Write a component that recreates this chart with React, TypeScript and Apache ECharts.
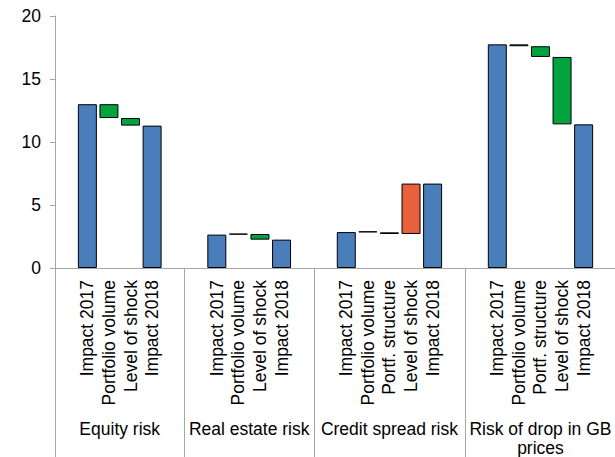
import React, { useEffect, useRef } from "react";
import * as echarts from "echarts";

// Waterfall of risk impacts, one block per risk type
const groupNames = ["Equity risk", "Real estate risk", "Credit spread risk", "Risk of drop in GB\nprices"];

const equitySteps = ["Impact 2017", "Portfolio volume", "Level of shock", "Impact 2018"];
const equityValues = [13.0, -1.1, -0.6, 11.3];

const realEstateSteps = ["Impact 2017", "Portfolio volume", "Level of shock", "Impact 2018"];
const realEstateValues = [2.65, 0.05, -0.45, 2.25];

const creditSteps = ["Impact 2017", "Portfolio volume", "Portf. structure", "Level of shock", "Impact 2018"];
const creditValues = [2.85, -0.02, -0.13, 4.0, 6.7];

const gbSteps = ["Impact 2017", "Portfolio volume", "Portf. structure", "Level of shock", "Impact 2018"];
const gbValues = [17.75, -0.15, -0.85, -5.35, 11.4];

const yTicks = [0, 5, 10, 15, 20];
const unitLabel = "(in CHF billions)";

const TOTAL_COLOR = "#4a7ebb";
const DOWN_COLOR = "#00a33d";
const UP_COLOR = "#e8603c";
const FONT = "'Liberation Sans', Arial, sans-serif";
const FONT_SIZE = 17.5;

type Slot = { label: string; base: number | null; size: number | null; color: string };

function buildSlots(): { slots: Slot[]; bounds: number[]; centers: number[] } {
  const blocks = [
    [equitySteps, equityValues],
    [realEstateSteps, realEstateValues],
    [creditSteps, creditValues],
    [gbSteps, gbValues],
  ] as [string[], number[]][];
  const slots: Slot[] = [];
  const bounds: number[] = [0];
  const centers: number[] = [];
  blocks.forEach(([steps, values]) => {
    const start = slots.length;
    slots.push({ label: "", base: null, size: null, color: TOTAL_COLOR });
    let running = 0;
    steps.forEach((label, i) => {
      const v = values[i];
      if (i === 0 || i === steps.length - 1) {
        running = v;
        slots.push({ label, base: 0, size: v, color: TOTAL_COLOR });
      } else {
        const next = running + v;
        slots.push({
          label,
          base: Math.min(running, next),
          size: Math.abs(v),
          color: v < 0 ? DOWN_COLOR : UP_COLOR,
        });
        running = next;
      }
    });
    slots.push({ label: "", base: null, size: null, color: TOTAL_COLOR });
    centers.push((start + slots.length) / 2);
    bounds.push(slots.length);
  });
  return { slots, bounds, centers };
}

export default function App() {
  const ref = useRef<HTMLDivElement>(null);

  useEffect(() => {
    if (!ref.current) return;
    const chart = echarts.init(ref.current, undefined, { renderer: "svg" });
    const { slots, bounds, centers } = buildSlots();
    const total = slots.length;

    chart.setOption({
      animation: false,
      backgroundColor: "#ffffff",
      textStyle: { fontFamily: FONT },
      grid: {
        left: 55,
        top: 16,
        bottom: 189,
        width: 561,
        containLabel: false,
        outerBoundsMode: "none",
      },
      graphic: [
        {
          type: "text",
          left: 2,
          top: -19,
          style: { text: unitLabel, font: `${FONT_SIZE}px ${FONT}`, fill: "#000" },
        },
      ],
      xAxis: [
        {
          type: "category",
          data: slots.map((s) => s.label),
          position: "bottom",
          axisLine: { show: true, lineStyle: { color: "#a6a6a6", width: 1 } },
          axisTick: { show: false },
          axisLabel: {
            interval: 0,
            rotate: 90,
            margin: 12,
            fontSize: FONT_SIZE,
            color: "#000",
            fontFamily: FONT,
          },
          splitLine: { show: false },
        },
        {
          type: "value",
          min: 0,
          max: total,
          position: "bottom",
          axisLine: { show: false },
          axisTick: {
            show: true,
            customValues: bounds,
            length: 190,
            lineStyle: { color: "#a6a6a6", width: 1 },
          },
          axisLabel: {
            show: true,
            customValues: centers,
            margin: 151,
            fontSize: FONT_SIZE,
            color: "#000",
            fontFamily: FONT,
            align: "center",
            lineHeight: 19,
            formatter: (v: number) => {
              const idx = centers.findIndex((c) => Math.abs(c - v) < 1e-6);
              return idx >= 0 ? groupNames[idx] : "";
            },
          },
          splitLine: { show: false },
        },
      ],
      yAxis: {
        type: "value",
        min: yTicks[0],
        max: yTicks[yTicks.length - 1],
        interval: yTicks[1] - yTicks[0],
        axisLine: { show: true, lineStyle: { color: "#a6a6a6", width: 1 } },
        axisTick: { show: true, inside: false, length: 5, lineStyle: { color: "#a6a6a6" } },
        axisLabel: { fontSize: FONT_SIZE, color: "#000", margin: 14, fontFamily: FONT },
        splitLine: { show: false },
      },
      series: [
        {
          name: "base",
          type: "bar",
          stack: "waterfall",
          xAxisIndex: 0,
          barWidth: 19,
          silent: true,
          itemStyle: { color: "transparent", borderColor: "transparent" },
          data: slots.map((s) => s.base),
        },
        {
          name: "change",
          type: "bar",
          stack: "waterfall",
          xAxisIndex: 0,
          barWidth: 19,
          barMinHeight: 1,
          data: slots.map((s) =>
            s.size === null
              ? null
              : {
                  value: s.size,
                  itemStyle: {
                    color: s.color,
                    borderColor: "#000",
                    borderWidth: 1,
                  },
                }
          ),
        },
      ],
    });

    return () => chart.dispose();
  }, []);

  return (
    <div
      ref={ref}
      style={{ position: "absolute", left: 0, top: 0, width: 615, height: 457, background: "#fff" }}
    />
  );
}
